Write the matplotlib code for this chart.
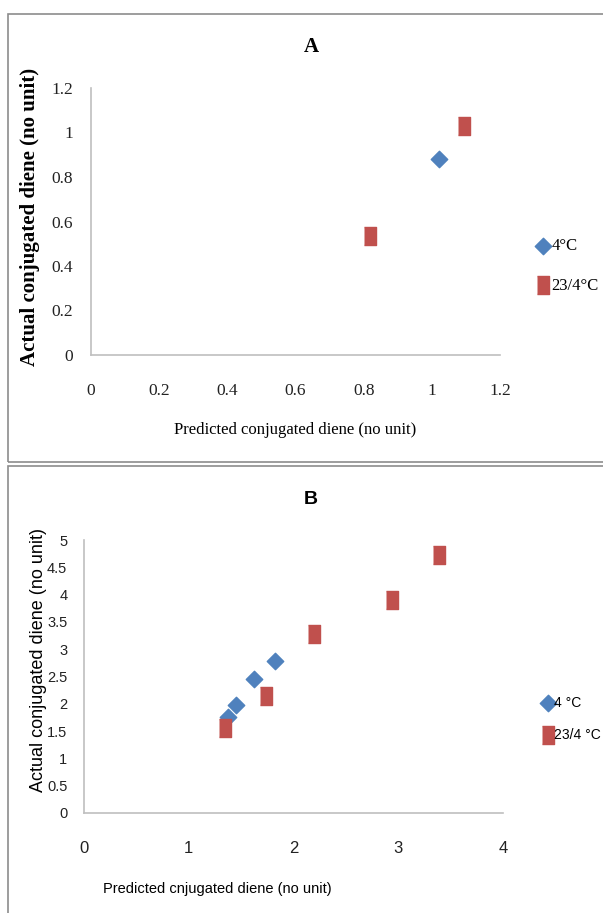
import matplotlib
matplotlib.use("Agg")
import matplotlib.pyplot as plt
from matplotlib.patches import Rectangle

# Panel A data
a_cold_x = [1.02]
a_cold_y = [0.88]
a_mix_x = [0.82, 1.095]
a_mix_y = [0.535, 1.028]
a_xticks = [0, 0.2, 0.4, 0.6, 0.8, 1, 1.2]
a_yticks = [0, 0.2, 0.4, 0.6, 0.8, 1, 1.2]

# Panel B data
b_cold_x = [1.375, 1.45, 1.62, 1.82]
b_cold_y = [1.76, 1.98, 2.45, 2.78]
b_mix_x = [1.35, 1.74, 2.20, 2.94, 3.39]
b_mix_y = [1.56, 2.14, 3.28, 3.90, 4.72]
b_xticks = [0, 1, 2, 3, 4]
b_yticks = [0, 0.5, 1, 1.5, 2, 2.5, 3, 3.5, 4, 4.5, 5]

blue = '#4F81BD'
red = '#C0504D'
rect = [(-0.75, -1), (0.75, -1), (0.75, 1), (-0.75, 1)]

W, H = 603, 913
fig = plt.figure(figsize=(6.03, 9.13), dpi=100)
fig.patch.set_facecolor('white')

def fx(px):
    return px / W

def fy(py):
    return 1 - py / H

serif = ['Liberation Serif', 'DejaVu Serif']
sans = ['Liberation Sans', 'DejaVu Sans']

# panel frames
fig.add_artist(Rectangle((fx(8), fy(462)), 1, fy(14) - fy(462), transform=fig.transFigure,
                         fill=False, edgecolor='#8c8c8c', lw=1.2))
fig.add_artist(Rectangle((fx(8), fy(1000)), 1, fy(466) - fy(1000), transform=fig.transFigure,
                         fill=False, edgecolor='#8c8c8c', lw=1.2))

def style(ax, xticks, yticks, xlim, ylim, family, xpad, ypad, xsize, ysize):
    ax.set_xlim(*xlim)
    ax.set_ylim(*ylim)
    ax.set_xticks(xticks)
    ax.set_yticks(yticks)
    ax.set_xticklabels(['%g' % v for v in xticks], family=family, fontsize=xsize)
    ax.set_yticklabels(['%g' % v for v in yticks], family=family, fontsize=ysize)
    for s in ['top', 'right']:
        ax.spines[s].set_visible(False)
    for s in ['left', 'bottom']:
        ax.spines[s].set_color('#bfbfbf')
        ax.spines[s].set_linewidth(1.2)
    ax.tick_params(axis='x', length=0, pad=xpad, colors='#222222')
    ax.tick_params(axis='y', length=0, pad=ypad, colors='#222222')
    ax.patch.set_alpha(0)

# ---- Panel A ----
axA = fig.add_axes([fx(91), fy(355), fx(500) - fx(91), fy(88) - fy(355)])
axA.scatter(a_cold_x, a_cold_y, marker='D', s=70, color=blue, label='4°C', clip_on=False)
axA.scatter(a_mix_x, a_mix_y, marker=rect, s=150, color=red, label='23/4°C', clip_on=False)
style(axA, a_xticks, a_yticks, (0, 1.2), (0, 1.2), serif, 20, 13, 12.5, 12.5)
fig.text(fx(311), fy(47), 'A', family=serif, fontsize=15, fontweight='bold', ha='center', va='center')
fig.text(fx(30), fy(217), 'Actual conjugated diene (no unit)', family=serif, fontsize=15,
         fontweight='bold', rotation=90, ha='center', va='center')
fig.text(fx(295), fy(430), 'Predicted conjugated diene (no unit)', family=serif, fontsize=12,
         ha='center', va='center')
axA.legend(loc='center left', bbox_to_anchor=(fx(530), fy(266)), bbox_transform=fig.transFigure,
           frameon=False, handletextpad=0.1, labelspacing=1.4, borderaxespad=0,
           handlelength=0.8, prop={'family': serif, 'size': 12})

# ---- Panel B ----
axB = fig.add_axes([fx(84), fy(813), fx(503) - fx(84), fy(540) - fy(813)])
axB.scatter(b_cold_x, b_cold_y, marker='D', s=70, color=blue, label='4 °C', clip_on=False)
axB.scatter(b_mix_x, b_mix_y, marker=rect, s=150, color=red, label='23/4 °C', clip_on=False)
style(axB, b_xticks, b_yticks, (0, 4), (0, 5), sans, 20, 12, 12, 10.5)
fig.text(fx(311), fy(499), 'B', family=sans, fontsize=14, fontweight='bold', ha='center', va='center')
fig.text(fx(39), fy(660), 'Actual conjugated diene (no unit)', family=sans, fontsize=13,
         rotation=90, ha='center', va='center')
fig.text(fx(217), fy(889), 'Predicted cnjugated diene (no unit)', family=sans, fontsize=10.5,
         ha='center', va='center')
axB.legend(loc='center left', bbox_to_anchor=(fx(537), fy(719)), bbox_transform=fig.transFigure,
           frameon=False, handletextpad=0.05, labelspacing=1.3, borderaxespad=0,
           handlelength=0.8, prop={'family': sans, 'size': 10})

fig.savefig('out.png', dpi=100, facecolor='white')
